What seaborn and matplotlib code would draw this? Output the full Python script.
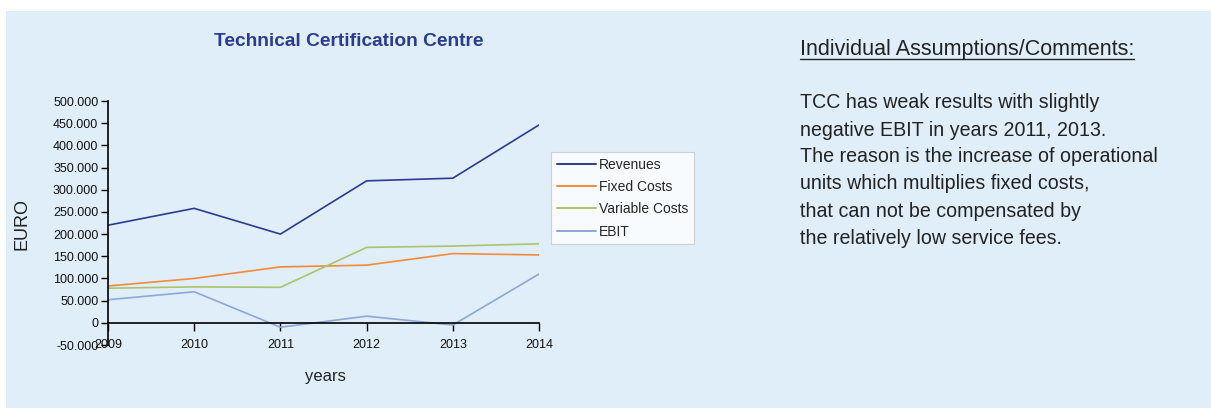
import matplotlib
matplotlib.use("Agg")
import matplotlib.pyplot as plt
from matplotlib.lines import Line2D
from matplotlib.ticker import FuncFormatter, MultipleLocator
import seaborn as sns
import pandas as pd

years = [2009, 2010, 2011, 2012, 2013, 2014]
revenues = [220000, 258000, 200000, 320000, 326000, 446000]
fixed_costs = [83000, 100000, 126000, 130000, 156000, 153000]
variable_costs = [78000, 81000, 80000, 170000, 173000, 178000]
ebit = [52000, 70000, -10000, 15000, -5000, 110000]

series_names = ["Revenues", "Fixed Costs", "Variable Costs", "EBIT"]
series_colors = ["#2B3C8E", "#F58A3A", "#A9C46E", "#8EA8D6"]

title = "Technical Certification Centre"
comment_heading = "Individual Assumptions/Comments:"
comment_lines = [
    "TCC has weak results with slightly",
    "negative EBIT in years 2011, 2013.",
    "The reason is the increase of operational",
    "units which multiplies fixed costs,",
    "that can not be compensated by",
    "the relatively low service fees.",
]

df = pd.DataFrame({
    "year": years * 4,
    "value": revenues + fixed_costs + variable_costs + ebit,
    "series": sum([[n] * len(years) for n in series_names], []),
})

sns.set_theme(style="white")
plt.rcParams["font.family"] = ["Liberation Sans", "DejaVu Sans"]

bg = "#E0EEF9"
fig = plt.figure(figsize=(12.11, 4.08), dpi=100, facecolor="white")
# light blue panel behind everything
fig.patches.append(plt.Rectangle((6 / 1211, 0), 1 - 6 / 1211, 1 - 11 / 408,
                                 transform=fig.transFigure, facecolor=bg,
                                 edgecolor="none", zorder=-10))

ax = fig.add_axes([108 / 1211, 1 - 345 / 408, (539 - 108) / 1211, (345 - 101) / 408])
ax.set_facecolor(bg)

sns.lineplot(data=df, x="year", y="value", hue="series", hue_order=series_names,
             palette=dict(zip(series_names, series_colors)), linewidth=1.2,
             ax=ax, legend=False)

ax.set_xlim(2009, 2014)
ax.set_ylim(-50000, 500000)
ax.yaxis.set_major_locator(MultipleLocator(50000))


def euro_fmt(v, pos):
    if abs(v) < 1:
        return "0"
    return f"{int(round(v)):,}".replace(",", ".")


ax.yaxis.set_major_formatter(FuncFormatter(euro_fmt))
ax.tick_params(axis="y", direction="out", length=5, width=1, color="black",
               labelsize=9, pad=2, left=True, labelcolor="#111111")

# horizontal axis crosses at zero, year labels sit at the bottom edge
for side in ["top", "right"]:
    ax.spines[side].set_visible(False)
ax.spines["bottom"].set_position(("data", 0))
for side in ["left", "bottom"]:
    ax.spines[side].set_color("black")
    ax.spines[side].set_linewidth(1.2)
ax.set_xticks(years)
ax.tick_params(axis="x", direction="out", length=6, width=1, color="black",
               labelbottom=False, bottom=True)
for yr in years:
    ax.text(yr, 0.0, str(yr), transform=ax.get_xaxis_transform(),
            ha="center", va="center", fontsize=9, color="#111111")

ax.set_xlabel("")
ax.set_ylabel("")
fig.text(22 / 1211, 1 - 224 / 408, "EURO", rotation=90, ha="center", va="center",
         fontsize=13, color="#222222")
fig.text(325 / 1211, 1 - 377 / 408, "years", ha="center", va="center",
         fontsize=12, color="#222222")
fig.text(349 / 1211, 1 - 42 / 408, title, ha="center", va="center",
         fontsize=13.8, fontweight="bold", color="#2B3C8E")

handles = [Line2D([0], [0], color=c, linewidth=1.4) for c in series_colors]
leg = fig.legend(handles, series_names, loc="upper left",
                 bbox_to_anchor=(551 / 1211, 1 - 152 / 408),
                 frameon=True, fontsize=10, handlelength=2.85, handletextpad=0.2,
                 labelspacing=0.6, borderpad=0.4, borderaxespad=0,
                 fancybox=False)
leg.get_frame().set_facecolor("white")
leg.get_frame().set_edgecolor("#C8C8C8")
leg.get_frame().set_linewidth(0.8)

head = fig.text(800 / 1211, 1 - 50 / 408, comment_heading, ha="left", va="center",
                fontsize=15.5, color="#222222")
for i, line in enumerate(comment_lines):
    fig.text(800 / 1211, 1 - (103 + 27 * i) / 408, line, ha="left", va="center",
             fontsize=14.1, color="#222222")

fig.canvas.draw()
bb = head.get_window_extent().transformed(fig.transFigure.inverted())
fig.add_artist(Line2D([bb.x0, bb.x1], [bb.y0 + 0.003, bb.y0 + 0.003],
                      transform=fig.transFigure, color="#222222", linewidth=1.0))

fig.savefig("out.png", dpi=100, facecolor="white")
